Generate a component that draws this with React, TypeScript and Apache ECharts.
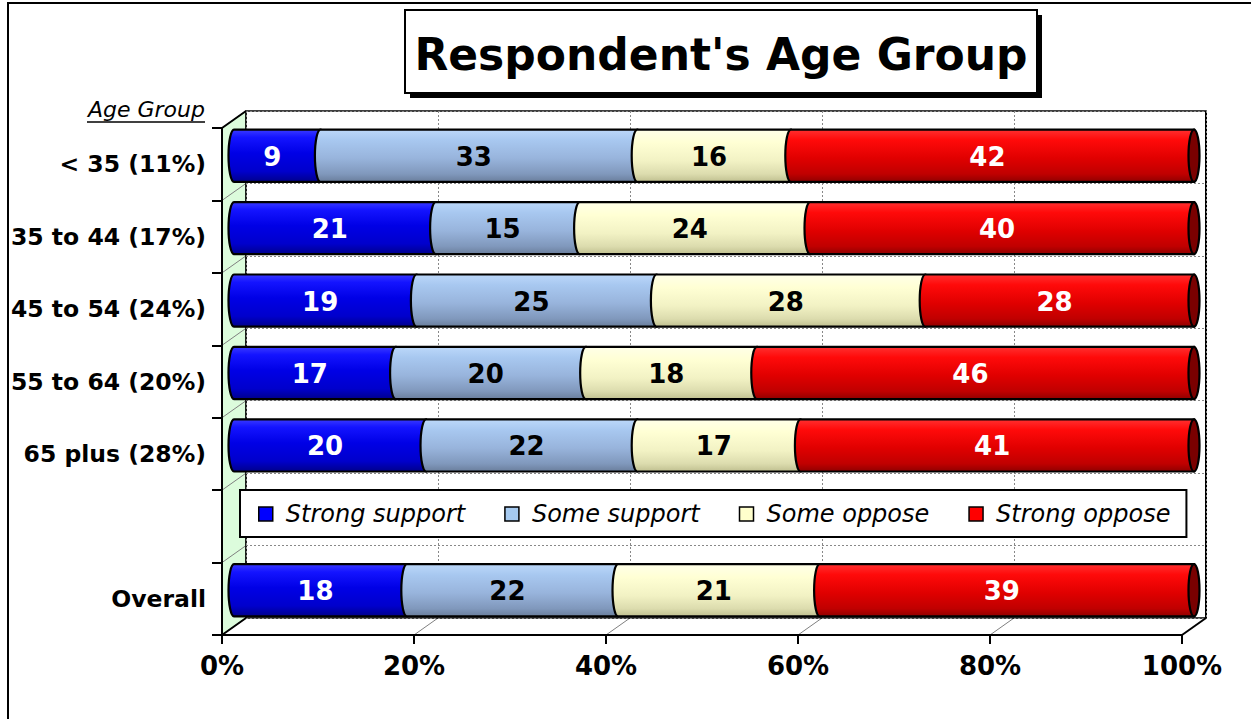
import React, { useEffect, useRef } from "react";
import * as echarts from "echarts";

const categories = ["< 35 (11%)", "35 to 44 (17%)", "45 to 54 (24%)", "55 to 64 (20%)", "65 plus (28%)", "", "Overall"];
const seriesNames = ["Strong support", "Some support", "Some oppose", "Strong oppose"];
const strongSupport = [9, 21, 19, 17, 20, null, 18];
const someSupport = [33, 15, 25, 20, 22, null, 22];
const someOppose = [16, 24, 28, 18, 17, null, 21];
const strongOppose = [42, 40, 28, 46, 41, null, 39];
const xTicks = [0, 20, 40, 60, 80, 100];

const allSeries = [strongSupport, someSupport, someOppose, strongOppose];
const legendColors = ["#0000ff", "#a6caf0", "#ffffcc", "#ff0000"];
const gradStops = [
  [[0, "#3a3aff"], [0.15, "#1414ff"], [0.45, "#0000e6"], [0.8, "#0000cc"], [1, "#00008c"]],
  [[0, "#bcd8fa"], [0.2, "#a8c8f0"], [0.55, "#98b4dc"], [0.85, "#8098bc"], [1, "#6a7e9c"]],
  [[0, "#ffffe8"], [0.25, "#ffffd4"], [0.6, "#f2f2c4"], [0.85, "#dcdcae"], [1, "#c0c090"]],
  [[0, "#ff3030"], [0.2, "#ff0a0a"], [0.55, "#e00000"], [0.85, "#c00000"], [1, "#900000"]],
];
const labelColors = ["#ffffff", "#000000", "#000000", "#ffffff"];

const FONT = "'DejaVu Sans', Verdana, sans-serif";

function buildData(s: number) {
  const out: any[] = [];
  categories.forEach((_, c) => {
    const v = allSeries[s][c];
    if (v == null) return;
    let total = 0;
    let before = 0;
    allSeries.forEach((arr, k) => {
      const val = (arr[c] as number) || 0;
      total += val;
      if (k < s) before += val;
    });
    out.push([(before / total) * 100, ((before + v) / total) * 100, c, v]);
  });
  return out;
}

function makeRender(s: number) {
  return (params: any, api: any) => {
    const x0v = api.value(0);
    const x1v = api.value(1);
    const c = api.value(2);
    const v = api.value(3);
    const p0 = api.coord([x0v, c]);
    const p1 = api.coord([x1v, c]);
    const band = api.size([0, 1])[1];
    const h = band * 0.72;
    const mid = p0[1];
    const top = mid - h / 2;
    const bottom = mid + h / 2;
    const rx = 5.5;
    const x0 = p0[0];
    const x1 = p1[0];
    const d = `M ${x0} ${top} A ${rx} ${h / 2} 0 0 0 ${x0} ${bottom} L ${x1} ${bottom} L ${x1} ${top} Z`;
    const children: any[] = [
      {
        type: "path",
        shape: { pathData: d },
        style: {
          fill: new echarts.graphic.LinearGradient(0, 0, 0, 1, gradStops[s].map(([o, col]) => ({ offset: o as number, color: col as string }))),
          stroke: "#000",
          lineWidth: 2.2,
        },
      },
    ];
    if (s === 3) {
      children.push({
        type: "ellipse",
        shape: { cx: x1, cy: mid, rx, ry: h / 2 },
        style: { fill: "#7a0000", stroke: "#000", lineWidth: 2.2 },
      });
    }
    children.push({
      type: "text",
      x: (x0 + x1) / 2 - 5,
      y: mid + 1,
      style: {
        text: String(v),
        fill: labelColors[s],
        font: `bold 26px ${FONT}`,
        align: "center",
        verticalAlign: "middle",
        textAlign: "center",
        textVerticalAlign: "middle",
      },
    });
    return { type: "group", children };
  };
}

export default function App() {
  const ref = useRef<HTMLDivElement>(null);
  useEffect(() => {
    if (!ref.current) return;
    const chart = echarts.init(ref.current, null, { renderer: "svg" });

    const fL = 222, fR = 1182, fT = 128, fB = 635;
    const dx = 24, dy = -17;
    const bL = fL + dx, bR = fR + dx, bT = fT + dy, bB = fB + dy;
    const nCat = categories.length;
    const bandH = (fB - fT) / nCat;

    const graphics: any[] = [];
    graphics.push({ type: "rect", z: -20, shape: { x: 8, y: 3, width: 1400, height: 900 }, style: { fill: "#fff", stroke: "#000", lineWidth: 2 } });
    graphics.push({ type: "polygon", z: -10, shape: { points: [[fL, fT], [bL, bT], [bL, bB], [fL, fB]] }, style: { fill: "#dcfcdc", stroke: "#000", lineWidth: 1 } });
    for (let k = 1; k < nCat; k++) {
      graphics.push({ type: "line", z: -9, shape: { x1: fL, y1: fT + k * bandH, x2: bL, y2: bT + k * bandH }, style: { stroke: "#808080", lineWidth: 1 } });
    }
    xTicks.forEach((t) => {
      if (t === 0 || t === 100) return;
      const x = fL + (t / 100) * (fR - fL);
      graphics.push({ type: "line", z: -9, shape: { x1: x, y1: fB, x2: x + dx, y2: bB }, style: { stroke: "#808080", lineWidth: 1 } });
    });
    graphics.push({ type: "polyline", z: -8, shape: { points: [[bL, bB], [bL, bT], [bR, bT], [bR, bB], [bL, bB]] }, style: { stroke: "#000", lineWidth: 1.5, fill: null } });
    graphics.push({ type: "line", z: 5, shape: { x1: fL, y1: fT, x2: bL, y2: bT }, style: { stroke: "#000", lineWidth: 2 } });
    graphics.push({ type: "line", z: 5, shape: { x1: fL, y1: fB, x2: bL, y2: bB }, style: { stroke: "#000", lineWidth: 2 } });
    graphics.push({ type: "line", z: 5, shape: { x1: fR, y1: fB, x2: bR, y2: bB }, style: { stroke: "#000", lineWidth: 2 } });
    graphics.push({ type: "line", z: -8, shape: { x1: bR, y1: bT, x2: bR, y2: bB }, style: { stroke: "#000", lineWidth: 2 } });
    graphics.push({ type: "rect", z: 10, shape: { x: 410, y: 15, width: 632, height: 83 }, style: { fill: "#000" } });
    graphics.push({ type: "rect", z: 11, shape: { x: 405, y: 10, width: 632, height: 83 }, style: { fill: "#fff", stroke: "#000", lineWidth: 2 } });
    graphics.push({
      type: "text", z: 12, x: 721, y: 54,
      style: { text: "Respondent's Age Group", font: `bold 44px ${FONT}`, fill: "#000", align: "center", verticalAlign: "middle", textAlign: "center", textVerticalAlign: "middle" },
    });
    graphics.push({
      type: "text", z: 12, x: 205, y: 109,
      style: { text: "Age Group", font: `italic 22px ${FONT}`, fill: "#000", align: "right", verticalAlign: "middle", textAlign: "right", textVerticalAlign: "middle" },
    });
    graphics.push({ type: "line", z: 12, shape: { x1: 87, y1: 122, x2: 205, y2: 122 }, style: { stroke: "#000", lineWidth: 1.5 } });

    chart.setOption({
      animation: false,
      backgroundColor: "#fff",
      graphic: graphics,
      legend: {
        data: seriesNames,
        selectedMode: false,
        left: 240,
        top: 490,
        orient: "horizontal",
        icon: "rect",
        itemWidth: 14,
        itemHeight: 14,
        itemGap: 39,
        padding: [12, 16, 11, 18],
        backgroundColor: "#fff",
        borderColor: "#000",
        borderWidth: 2,
        itemStyle: { borderColor: "#000", borderWidth: 1.5 },
        textStyle: { fontFamily: FONT, fontStyle: "italic", fontSize: 24, color: "#000", padding: [0, 0, 0, 8] },
        z: 20,
      },
      grid: [
        { left: 234, top: 119.5, width: 960, height: 507 },
        { left: fL, top: fT, width: fR - fL, height: fB - fT },
        { left: bL, top: bT, width: bR - bL, height: bB - bT },
      ],
      xAxis: [
        { gridIndex: 0, type: "value", min: 0, max: 100, show: false },
        {
          gridIndex: 1, type: "value", min: 0, max: 100, interval: 20,
          axisLine: { show: true, lineStyle: { color: "#000", width: 2 } },
          axisTick: { show: true, length: 9, lineStyle: { color: "#000", width: 2 } },
          axisLabel: { formatter: "{value}%", fontFamily: FONT, fontWeight: "bold", fontSize: 26, color: "#000", margin: 18 },
          splitLine: { show: false },
        },
        {
          gridIndex: 2, type: "value", min: 0, max: 100, interval: 20,
          axisLine: { show: false }, axisTick: { show: false }, axisLabel: { show: false },
          splitLine: { show: true, lineStyle: { color: "#888", width: 1, type: [2, 2] } },
        },
      ],
      yAxis: [
        { gridIndex: 0, type: "category", data: categories, inverse: true, show: false },
        {
          gridIndex: 1, type: "category", data: categories, inverse: true,
          axisLine: { show: true, lineStyle: { color: "#000", width: 2 } },
          axisTick: { show: true, length: 10, lineStyle: { color: "#000", width: 2 } },
          axisLabel: { fontFamily: FONT, fontWeight: "bold", fontSize: 23.5, color: "#000", margin: 16 },
          splitLine: { show: false },
        },
        {
          gridIndex: 2, type: "category", data: categories, inverse: true,
          axisLine: { show: false }, axisTick: { show: false }, axisLabel: { show: false },
          splitLine: { show: true, lineStyle: { color: "#888", width: 1, type: [2, 2] } },
        },
      ],
      series: seriesNames.map((name, s) => ({
        name,
        type: "custom",
        xAxisIndex: 0,
        yAxisIndex: 0,
        itemStyle: { color: legendColors[s] },
        encode: { x: [0, 1], y: 2 },
        renderItem: makeRender(s),
        data: buildData(s),
        z: 3,
      })),
    });
    return () => chart.dispose();
  }, []);
  return <div ref={ref} style={{ position: "absolute", left: 0, top: 0, width: 1251, height: 719 }} />;
}
